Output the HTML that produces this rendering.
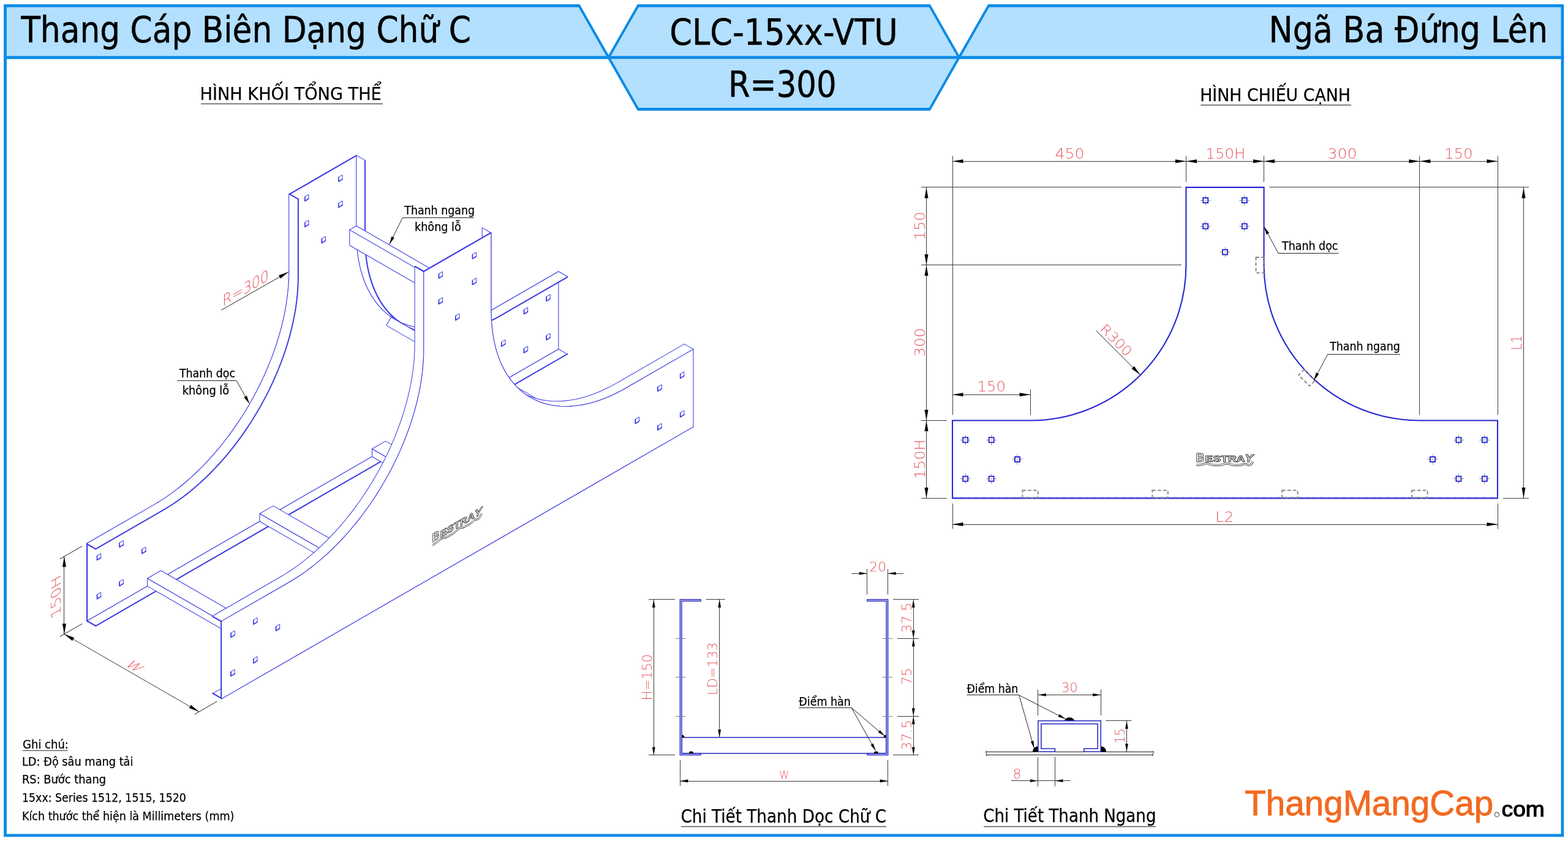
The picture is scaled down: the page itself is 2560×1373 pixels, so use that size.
<!DOCTYPE html>
<html lang="vi"><head><meta charset="utf-8"><title>CLC-15xx-VTU - Ngã Ba Đứng Lên</title>
<style>html,body{margin:0;padding:0;background:#fff}body{width:2560px;height:1373px;overflow:hidden}svg{display:block;will-change:transform}text{white-space:pre}</style>
</head><body>
<svg width="2560" height="1373" viewBox="0 0 2560 1373">
<rect width="2560" height="1373" fill="#fff"/>
<g id="frame">
<polygon points="6.1,91.4 2553.3,91.4 2553.3,1366.2 6.1,1366.2" fill="#0c8be6"/>
<polygon points="10.9,96.2 2548.5,96.2 2548.5,1361.4 10.9,1361.4" fill="#fff"/>
<polygon points="6.1,7 946.43,7 997.27,96.2 6.1,96.2" fill="#0c8be6"/>
<polygon points="10.9,11.8 944.57,11.8 989.93,91.4 10.9,91.4" fill="#b3e0ff"/>
<polygon points="1613.07,7 2553.3,7 2553.3,96.2 1562.13,96.2" fill="#0c8be6"/>
<polygon points="1614.93,11.8 2548.5,11.8 2548.5,91.4 1569.47,91.4" fill="#b3e0ff"/>
<polygon points="1040.87,7 1518.74,7 1568.1,93.8 1518.74,180.8 1040.87,180.8 991.3,93.8" fill="#0c8be6"/>
<polygon points="1042.73,11.8 1516.86,11.8 1563.5,93.8 1516.86,176 1042.73,176 995.9,93.8" fill="#b3e0ff"/>
<rect x="993.6" y="91.4" width="572.2" height="4.8" fill="#0c8be6"/>
</g>
<g id="iso">
<path d="M141.6 1014 L141.6 887.29 L251.64 823.86 L260.28 818.68 L268.91 813.12 L277.51 807.19 L286.07 800.89 L294.58 794.24 L303.02 787.24 L311.38 779.91 L319.65 772.25 L327.81 764.29 L335.86 756.02 L343.78 747.47 L351.55 738.64 L359.18 729.56 L366.63 720.23 L373.91 710.67 L381 700.89 L387.89 690.91 L394.57 680.75 L401.03 670.42 L407.26 659.93 L413.25 649.3 L418.99 638.55 L424.47 627.7 L429.69 616.76 L434.63 605.75 L439.29 594.68 L443.66 583.58 L447.73 572.45 L451.5 561.33 L454.97 550.21 L458.12 539.13 L460.95 528.1 L463.46 517.13 L465.64 506.24 L467.49 495.46 L469.01 484.78 L470.19 474.24 L471.04 463.85 L471.55 453.63 L471.72 443.58 L471.72 316.87 L581.76 253.44 L581.76 380.14 L581.93 390 L582.44 399.64 L583.29 409.05 L584.47 418.23 L585.99 427.15 L587.84 435.8 L590.02 444.17 L592.53 452.24 L595.36 460.01 L598.51 467.46 L601.98 474.58 L605.75 481.36 L609.82 487.79 L614.19 493.86 L618.85 499.55 L623.79 504.87 L629.01 509.79 L634.49 514.32 L640.23 518.45 L646.22 522.17 L652.45 525.48 L658.91 528.36 L665.59 530.83 L672.48 532.86 L679.57 534.46 L686.85 535.63 L694.3 536.37 L701.93 536.66 L709.7 536.52 L717.62 535.95 L725.67 534.93 L733.83 533.49 L742.1 531.61 L750.46 529.3 L758.9 526.57 L767.41 523.41 L775.97 519.84 L784.57 515.86 L793.2 511.47 L801.84 506.69 L911.88 443.25 L911.88 569.95Z" fill="#fff" stroke="#3c3ce4" stroke-width="1.05" stroke-linejoin="round" fill-rule="nonzero"/>
<path d="M158.18 978.17 L164.64 974.45 L164.64 967.02 L158.18 970.74Z" fill="#fff" stroke="#3c3ce4" stroke-width="1.0" stroke-linejoin="round" fill-rule="nonzero"/>
<path d="M158.68 971.04 L158.68 977.67 L164.64 973.85" fill="none" stroke="#3c3ce4" stroke-width="1.5" stroke-linejoin="round" stroke-linecap="round"/>
<path d="M158.18 914.82 L164.64 911.1 L164.64 903.67 L158.18 907.39Z" fill="#fff" stroke="#3c3ce4" stroke-width="1.0" stroke-linejoin="round" fill-rule="nonzero"/>
<path d="M158.68 907.69 L158.68 914.32 L164.64 910.5" fill="none" stroke="#3c3ce4" stroke-width="1.5" stroke-linejoin="round" stroke-linecap="round"/>
<path d="M194.86 957.03 L201.32 953.31 L201.32 945.87 L194.86 949.6Z" fill="#fff" stroke="#3c3ce4" stroke-width="1.0" stroke-linejoin="round" fill-rule="nonzero"/>
<path d="M195.36 949.9 L195.36 956.53 L201.32 952.71" fill="none" stroke="#3c3ce4" stroke-width="1.5" stroke-linejoin="round" stroke-linecap="round"/>
<path d="M194.86 893.68 L201.32 889.96 L201.32 882.52 L194.86 886.24Z" fill="#fff" stroke="#3c3ce4" stroke-width="1.0" stroke-linejoin="round" fill-rule="nonzero"/>
<path d="M195.36 886.54 L195.36 893.18 L201.32 889.36" fill="none" stroke="#3c3ce4" stroke-width="1.5" stroke-linejoin="round" stroke-linecap="round"/>
<path d="M231.54 904.21 L238 900.49 L238 893.05 L231.54 896.77Z" fill="#fff" stroke="#3c3ce4" stroke-width="1.0" stroke-linejoin="round" fill-rule="nonzero"/>
<path d="M232.04 897.07 L232.04 903.71 L238 899.89" fill="none" stroke="#3c3ce4" stroke-width="1.5" stroke-linejoin="round" stroke-linecap="round"/>
<path d="M891.78 555.27 L898.24 551.55 L898.24 544.12 L891.78 547.84Z" fill="#fff" stroke="#3c3ce4" stroke-width="1.0" stroke-linejoin="round" fill-rule="nonzero"/>
<path d="M892.28 548.14 L892.28 554.77 L898.24 550.95" fill="none" stroke="#3c3ce4" stroke-width="1.5" stroke-linejoin="round" stroke-linecap="round"/>
<path d="M891.78 491.92 L898.24 488.2 L898.24 480.77 L891.78 484.49Z" fill="#fff" stroke="#3c3ce4" stroke-width="1.0" stroke-linejoin="round" fill-rule="nonzero"/>
<path d="M892.28 484.79 L892.28 491.42 L898.24 487.6" fill="none" stroke="#3c3ce4" stroke-width="1.5" stroke-linejoin="round" stroke-linecap="round"/>
<path d="M855.1 576.42 L861.56 572.7 L861.56 565.26 L855.1 568.99Z" fill="#fff" stroke="#3c3ce4" stroke-width="1.0" stroke-linejoin="round" fill-rule="nonzero"/>
<path d="M855.6 569.29 L855.6 575.92 L861.56 572.1" fill="none" stroke="#3c3ce4" stroke-width="1.5" stroke-linejoin="round" stroke-linecap="round"/>
<path d="M855.1 513.07 L861.56 509.35 L861.56 501.91 L855.1 505.63Z" fill="#fff" stroke="#3c3ce4" stroke-width="1.0" stroke-linejoin="round" fill-rule="nonzero"/>
<path d="M855.6 505.93 L855.6 512.57 L861.56 508.75" fill="none" stroke="#3c3ce4" stroke-width="1.5" stroke-linejoin="round" stroke-linecap="round"/>
<path d="M818.42 565.89 L824.88 562.17 L824.88 554.73 L818.42 558.45Z" fill="#fff" stroke="#3c3ce4" stroke-width="1.0" stroke-linejoin="round" fill-rule="nonzero"/>
<path d="M818.92 558.75 L818.92 565.39 L824.88 561.57" fill="none" stroke="#3c3ce4" stroke-width="1.5" stroke-linejoin="round" stroke-linecap="round"/>
<path d="M497.47 328.56 L503.93 324.84 L503.93 317.4 L497.47 321.12Z" fill="#fff" stroke="#3c3ce4" stroke-width="1.0" stroke-linejoin="round" fill-rule="nonzero"/>
<path d="M497.97 321.42 L497.97 328.06 L503.93 324.24" fill="none" stroke="#3c3ce4" stroke-width="1.5" stroke-linejoin="round" stroke-linecap="round"/>
<path d="M552.49 296.84 L558.95 293.12 L558.95 285.68 L552.49 289.41Z" fill="#fff" stroke="#3c3ce4" stroke-width="1.0" stroke-linejoin="round" fill-rule="nonzero"/>
<path d="M552.99 289.71 L552.99 296.34 L558.95 292.52" fill="none" stroke="#3c3ce4" stroke-width="1.5" stroke-linejoin="round" stroke-linecap="round"/>
<path d="M497.47 370.79 L503.93 367.07 L503.93 359.64 L497.47 363.36Z" fill="#fff" stroke="#3c3ce4" stroke-width="1.0" stroke-linejoin="round" fill-rule="nonzero"/>
<path d="M497.97 363.66 L497.97 370.29 L503.93 366.47" fill="none" stroke="#3c3ce4" stroke-width="1.5" stroke-linejoin="round" stroke-linecap="round"/>
<path d="M552.49 339.07 L558.95 335.35 L558.95 327.92 L552.49 331.64Z" fill="#fff" stroke="#3c3ce4" stroke-width="1.0" stroke-linejoin="round" fill-rule="nonzero"/>
<path d="M552.99 331.94 L552.99 338.57 L558.95 334.75" fill="none" stroke="#3c3ce4" stroke-width="1.5" stroke-linejoin="round" stroke-linecap="round"/>
<path d="M524.98 397.17 L531.44 393.45 L531.44 386.01 L524.98 389.73Z" fill="#fff" stroke="#3c3ce4" stroke-width="1.0" stroke-linejoin="round" fill-rule="nonzero"/>
<path d="M525.48 390.03 L525.48 396.67 L531.44 392.85" fill="none" stroke="#3c3ce4" stroke-width="1.5" stroke-linejoin="round" stroke-linecap="round"/>
<path d="M142.33 1014.42 L142.33 887.72" fill="none" stroke="#3c3ce4" stroke-width="1.7" stroke-linejoin="round" stroke-linecap="round"/>
<path d="M472.45 317.3 L582.49 253.86" fill="none" stroke="#3c3ce4" stroke-width="1.7" stroke-linejoin="round" stroke-linecap="round"/>
<path d="M141.6 1014 L911.88 569.95 L926.55 578.41 L156.27 1022.46Z" fill="#fff" stroke="#fff" stroke-width="0.6"/>
<path d="M141.6 1014 L911.88 569.95" fill="none" stroke="#3c3ce4" stroke-width="1.05" stroke-linejoin="round" stroke-linecap="round"/>
<path d="M156.27 1022.46 L926.55 578.41" fill="none" stroke="#3c3ce4" stroke-width="1.05" stroke-linejoin="round" stroke-linecap="round"/>
<path d="M141.6 1014 L156.27 1022.46" fill="none" stroke="#3c3ce4" stroke-width="1.05" stroke-linejoin="round" stroke-linecap="round"/>
<path d="M911.88 569.95 L926.55 578.41" fill="none" stroke="#3c3ce4" stroke-width="1.05" stroke-linejoin="round" stroke-linecap="round"/>
<path d="M156.27 1021.61 L926.55 577.57" fill="none" stroke="#3c3ce4" stroke-width="1.5" stroke-linejoin="round" stroke-linecap="round"/>
<path d="M141.6 1013.16 L156.27 1021.61" fill="none" stroke="#3c3ce4" stroke-width="1.7" stroke-linejoin="round" stroke-linecap="round"/>
<path d="M581.76 253.44 L581.76 380.14 L596.43 388.6 L596.43 261.9Z M581.76 380.14 L581.93 390 L596.6 398.45 L596.43 388.6Z M581.93 390 L582.44 399.64 L597.11 408.09 L596.6 398.45Z M582.44 399.64 L583.29 409.05 L597.96 417.51 L597.11 408.09Z M583.29 409.05 L584.47 418.23 L599.14 426.68 L597.96 417.51Z M584.47 418.23 L585.99 427.15 L600.66 435.6 L599.14 426.68Z M585.99 427.15 L587.84 435.8 L602.51 444.25 L600.66 435.6Z M587.84 435.8 L590.02 444.17 L604.69 452.63 L602.51 444.25Z M590.02 444.17 L592.53 452.24 L607.2 460.7 L604.69 452.63Z M592.53 452.24 L595.36 460.01 L610.03 468.47 L607.2 460.7Z M595.36 460.01 L598.51 467.46 L613.18 475.92 L610.03 468.47Z M598.51 467.46 L601.98 474.58 L616.65 483.04 L613.18 475.92Z M601.98 474.58 L605.75 481.36 L620.42 489.82 L616.65 483.04Z M605.75 481.36 L609.82 487.79 L624.49 496.25 L620.42 489.82Z M609.82 487.79 L614.19 493.86 L628.86 502.31 L624.49 496.25Z M614.19 493.86 L618.85 499.55 L633.52 508.01 L628.86 502.31Z M618.85 499.55 L623.79 504.87 L638.46 513.32 L633.52 508.01Z M623.79 504.87 L629.01 509.79 L643.68 518.25 L638.46 513.32Z M629.01 509.79 L634.49 514.32 L649.16 522.78 L643.68 518.25Z M634.49 514.32 L640.23 518.45 L654.9 526.91 L649.16 522.78Z M640.23 518.45 L646.22 522.17 L660.89 530.63 L654.9 526.91Z M646.22 522.17 L652.45 525.48 L667.12 533.94 L660.89 530.63Z M652.45 525.48 L658.91 528.36 L673.58 536.82 L667.12 533.94Z M658.91 528.36 L665.59 530.83 L680.26 539.28 L673.58 536.82Z M665.59 530.83 L672.48 532.86 L687.15 541.32 L680.26 539.28Z M672.48 532.86 L679.57 534.46 L694.24 542.92 L687.15 541.32Z M679.57 534.46 L686.85 535.63 L701.52 544.09 L694.24 542.92Z M686.85 535.63 L694.3 536.37 L708.98 544.82 L701.52 544.09Z M694.3 536.37 L701.93 536.66 L716.6 545.12 L708.98 544.82Z M701.93 536.66 L709.7 536.52 L724.37 544.98 L716.6 545.12Z M709.7 536.52 L717.62 535.95 L732.29 544.4 L724.37 544.98Z M717.62 535.95 L725.67 534.93 L740.34 543.39 L732.29 544.4Z M725.67 534.93 L733.83 533.49 L748.5 541.95 L740.34 543.39Z M733.83 533.49 L742.1 531.61 L756.77 540.07 L748.5 541.95Z M742.1 531.61 L750.46 529.3 L765.14 537.76 L756.77 540.07Z M750.46 529.3 L758.9 526.57 L773.58 535.02 L765.14 537.76Z M758.9 526.57 L767.41 523.41 L782.08 531.87 L773.58 535.02Z M767.41 523.41 L775.97 519.84 L790.64 528.3 L782.08 531.87Z M775.97 519.84 L784.57 515.86 L799.24 524.32 L790.64 528.3Z M784.57 515.86 L793.2 511.47 L807.87 519.93 L799.24 524.32Z M793.2 511.47 L801.84 506.69 L816.51 515.14 L807.87 519.93Z M801.84 506.69 L911.88 443.25 L926.55 451.71 L816.51 515.14Z" fill="#fff" stroke="#fff" stroke-width="0.6"/>
<path d="M581.76 253.44 L581.76 380.14 L581.93 390 L582.44 399.64 L583.29 409.05 L584.47 418.23 L585.99 427.15 L587.84 435.8 L590.02 444.17 L592.53 452.24 L595.36 460.01 L598.51 467.46 L601.98 474.58 L605.75 481.36 L609.82 487.79 L614.19 493.86 L618.85 499.55 L623.79 504.87 L629.01 509.79 L634.49 514.32 L640.23 518.45 L646.22 522.17 L652.45 525.48 L658.91 528.36 L665.59 530.83 L672.48 532.86 L679.57 534.46 L686.85 535.63 L694.3 536.37 L701.93 536.66 L709.7 536.52 L717.62 535.95 L725.67 534.93 L733.83 533.49 L742.1 531.61 L750.46 529.3 L758.9 526.57 L767.41 523.41 L775.97 519.84 L784.57 515.86 L793.2 511.47 L801.84 506.69 L911.88 443.25" fill="none" stroke="#3c3ce4" stroke-width="1.05" stroke-linejoin="round" stroke-linecap="round"/>
<path d="M596.43 261.9 L596.43 388.6 L596.6 398.45 L597.11 408.09 L597.96 417.51 L599.14 426.68 L600.66 435.6 L602.51 444.25 L604.69 452.63 L607.2 460.7 L610.03 468.47 L613.18 475.92 L616.65 483.04 L620.42 489.82 L624.49 496.25 L628.86 502.31 L633.52 508.01 L638.46 513.32 L643.68 518.25 L649.16 522.78 L654.9 526.91 L660.89 530.63 L667.12 533.94 L673.58 536.82 L680.26 539.28 L687.15 541.32 L694.24 542.92 L701.52 544.09 L708.98 544.82 L716.6 545.12 L724.37 544.98 L732.29 544.4 L740.34 543.39 L748.5 541.95 L756.77 540.07 L765.14 537.76 L773.58 535.02 L782.08 531.87 L790.64 528.3 L799.24 524.32 L807.87 519.93 L816.51 515.14 L926.55 451.71" fill="none" stroke="#3c3ce4" stroke-width="1.05" stroke-linejoin="round" stroke-linecap="round"/>
<path d="M581.76 253.44 L596.43 261.9" fill="none" stroke="#3c3ce4" stroke-width="1.05" stroke-linejoin="round" stroke-linecap="round"/>
<path d="M911.88 443.25 L926.55 451.71" fill="none" stroke="#3c3ce4" stroke-width="1.05" stroke-linejoin="round" stroke-linecap="round"/>
<path d="M595.7 262.32 L595.7 389.03 L595.87 398.91 L596.38 408.58 L597.23 418.03 L598.42 427.23 L599.94 436.18 L601.8 444.86 L603.99 453.26 L606.51 461.36 L609.35 469.16 L612.51 476.64 L615.98 483.78 L619.77 490.58 L623.85 497.03 L628.24 503.12 L632.91 508.83 L637.87 514.16 L643.1 519.11 L648.6 523.65 L654.36 527.8 L660.37 531.53 L666.62 534.84 L673.11 537.74 L679.81 540.21 L686.72 542.25 L693.83 543.86 L701.14 545.03 L708.62 545.77 L716.26 546.07 L724.07 545.93 L732.01 545.35 L740.08 544.33 L748.28 542.88 L756.57 540.99 L764.96 538.68 L773.43 535.94 L781.97 532.77 L790.56 529.19 L799.19 525.19 L807.84 520.79 L816.51 515.99 L926.55 452.55" fill="none" stroke="#3c3ce4" stroke-width="1.5" stroke-linejoin="round" stroke-linecap="round"/>
<path d="M141.6 887.29 L251.64 823.86 L266.31 832.32 L156.27 895.75Z M251.64 823.86 L260.28 818.68 L274.95 827.14 L266.31 832.32Z M260.28 818.68 L268.91 813.12 L283.58 821.58 L274.95 827.14Z M268.91 813.12 L277.51 807.19 L292.18 815.65 L283.58 821.58Z M277.51 807.19 L286.07 800.89 L300.74 809.35 L292.18 815.65Z M286.07 800.89 L294.58 794.24 L309.25 802.7 L300.74 809.35Z M294.58 794.24 L303.02 787.24 L317.69 795.7 L309.25 802.7Z M303.02 787.24 L311.38 779.91 L326.05 788.37 L317.69 795.7Z M311.38 779.91 L319.65 772.25 L334.32 780.71 L326.05 788.37Z M319.65 772.25 L327.81 764.29 L342.49 772.74 L334.32 780.71Z M327.81 764.29 L335.86 756.02 L350.53 764.48 L342.49 772.74Z M335.86 756.02 L343.78 747.47 L358.45 755.93 L350.53 764.48Z M343.78 747.47 L351.55 738.64 L366.23 747.1 L358.45 755.93Z M351.55 738.64 L359.18 729.56 L373.85 738.02 L366.23 747.1Z M359.18 729.56 L366.63 720.23 L381.3 728.69 L373.85 738.02Z M366.63 720.23 L373.91 710.67 L388.58 719.13 L381.3 728.69Z M373.91 710.67 L381 700.89 L395.67 709.35 L388.58 719.13Z M381 700.89 L387.89 690.91 L402.56 699.37 L395.67 709.35Z M387.89 690.91 L394.57 680.75 L409.24 689.21 L402.56 699.37Z M394.57 680.75 L401.03 670.42 L415.7 678.87 L409.24 689.21Z M401.03 670.42 L407.26 659.93 L421.93 668.39 L415.7 678.87Z M407.26 659.93 L413.25 649.3 L427.92 657.76 L421.93 668.39Z M413.25 649.3 L418.99 638.55 L433.66 647.01 L427.92 657.76Z M418.99 638.55 L424.47 627.7 L439.14 636.16 L433.66 647.01Z M424.47 627.7 L429.69 616.76 L444.36 625.22 L439.14 636.16Z M429.69 616.76 L434.63 605.75 L449.3 614.21 L444.36 625.22Z M434.63 605.75 L439.29 594.68 L453.96 603.14 L449.3 614.21Z M439.29 594.68 L443.66 583.58 L458.33 592.04 L453.96 603.14Z M443.66 583.58 L447.73 572.45 L462.4 580.91 L458.33 592.04Z M447.73 572.45 L451.5 561.33 L466.18 569.78 L462.4 580.91Z M451.5 561.33 L454.97 550.21 L469.64 558.67 L466.18 569.78Z M454.97 550.21 L458.12 539.13 L472.79 547.59 L469.64 558.67Z M458.12 539.13 L460.95 528.1 L475.62 536.56 L472.79 547.59Z M460.95 528.1 L463.46 517.13 L478.13 525.59 L475.62 536.56Z M463.46 517.13 L465.64 506.24 L480.31 514.7 L478.13 525.59Z M465.64 506.24 L467.49 495.46 L482.16 503.91 L480.31 514.7Z M467.49 495.46 L469.01 484.78 L483.68 493.24 L482.16 503.91Z M469.01 484.78 L470.19 474.24 L484.87 482.7 L483.68 493.24Z M470.19 474.24 L471.04 463.85 L485.71 472.31 L484.87 482.7Z M471.04 463.85 L471.55 453.63 L486.22 462.08 L485.71 472.31Z M471.55 453.63 L471.72 443.58 L486.39 452.04 L486.22 462.08Z M471.72 443.58 L471.72 316.87 L486.39 325.33 L486.39 452.04Z" fill="#fff" stroke="#fff" stroke-width="0.6"/>
<path d="M141.6 887.29 L251.64 823.86 L260.28 818.68 L268.91 813.12 L277.51 807.19 L286.07 800.89 L294.58 794.24 L303.02 787.24 L311.38 779.91 L319.65 772.25 L327.81 764.29 L335.86 756.02 L343.78 747.47 L351.55 738.64 L359.18 729.56 L366.63 720.23 L373.91 710.67 L381 700.89 L387.89 690.91 L394.57 680.75 L401.03 670.42 L407.26 659.93 L413.25 649.3 L418.99 638.55 L424.47 627.7 L429.69 616.76 L434.63 605.75 L439.29 594.68 L443.66 583.58 L447.73 572.45 L451.5 561.33 L454.97 550.21 L458.12 539.13 L460.95 528.1 L463.46 517.13 L465.64 506.24 L467.49 495.46 L469.01 484.78 L470.19 474.24 L471.04 463.85 L471.55 453.63 L471.72 443.58 L471.72 316.87" fill="none" stroke="#3c3ce4" stroke-width="1.05" stroke-linejoin="round" stroke-linecap="round"/>
<path d="M156.27 895.75 L266.31 832.32 L274.95 827.14 L283.58 821.58 L292.18 815.65 L300.74 809.35 L309.25 802.7 L317.69 795.7 L326.05 788.37 L334.32 780.71 L342.49 772.74 L350.53 764.48 L358.45 755.93 L366.23 747.1 L373.85 738.02 L381.3 728.69 L388.58 719.13 L395.67 709.35 L402.56 699.37 L409.24 689.21 L415.7 678.87 L421.93 668.39 L427.92 657.76 L433.66 647.01 L439.14 636.16 L444.36 625.22 L449.3 614.21 L453.96 603.14 L458.33 592.04 L462.4 580.91 L466.18 569.78 L469.64 558.67 L472.79 547.59 L475.62 536.56 L478.13 525.59 L480.31 514.7 L482.16 503.91 L483.68 493.24 L484.87 482.7 L485.71 472.31 L486.22 462.08 L486.39 452.04 L486.39 325.33" fill="none" stroke="#3c3ce4" stroke-width="1.05" stroke-linejoin="round" stroke-linecap="round"/>
<path d="M141.6 887.29 L156.27 895.75" fill="none" stroke="#3c3ce4" stroke-width="1.05" stroke-linejoin="round" stroke-linecap="round"/>
<path d="M471.72 316.87 L486.39 325.33" fill="none" stroke="#3c3ce4" stroke-width="1.05" stroke-linejoin="round" stroke-linecap="round"/>
<path d="M156.27 896.6 L266.31 833.16 L274.98 827.97 L283.64 822.39 L292.27 816.44 L300.85 810.12 L309.39 803.44 L317.86 796.42 L326.25 789.06 L334.55 781.38 L342.74 773.39 L350.81 765.1 L358.76 756.52 L366.56 747.66 L374.21 738.55 L381.69 729.19 L388.99 719.59 L396.1 709.78 L403.02 699.77 L409.72 689.57 L416.2 679.21 L422.45 668.68 L428.46 658.02 L434.22 647.24 L439.72 636.35 L444.95 625.37 L449.91 614.32 L454.59 603.22 L458.97 592.08 L463.06 580.92 L466.84 569.75 L470.32 558.6 L473.48 547.48 L476.32 536.41 L478.84 525.41 L481.02 514.49 L482.88 503.66 L484.41 492.96 L485.6 482.38 L486.44 471.96 L486.96 461.7 L487.13 451.62 L487.13 324.91" fill="none" stroke="#3c3ce4" stroke-width="1.5" stroke-linejoin="round" stroke-linecap="round"/>
<path d="M141.6 888.14 L156.27 896.6" fill="none" stroke="#3c3ce4" stroke-width="1.7" stroke-linejoin="round" stroke-linecap="round"/>
<path d="M472.45 316.45 L487.13 324.91" fill="none" stroke="#3c3ce4" stroke-width="1.7" stroke-linejoin="round" stroke-linecap="round"/>
<path d="M790.84 639.73 L1010.92 766.6 L1010.92 753.93 L790.84 627.06Z" fill="#fff" stroke="#3c3ce4" stroke-width="1.05" stroke-linejoin="round" fill-rule="nonzero"/>
<path d="M790.84 627.06 L1010.92 753.93 L1032.92 741.25 L812.84 614.38Z" fill="#fff" stroke="#3c3ce4" stroke-width="1.05" stroke-linejoin="round" fill-rule="nonzero"/>
<path d="M638.44 517.7 L858.52 644.57 L850.74 658.01 L630.66 531.14Z" fill="#fff" stroke="#3c3ce4" stroke-width="1.05" stroke-linejoin="round" fill-rule="nonzero"/>
<path d="M607.44 745.46 L827.52 872.33 L827.52 859.66 L607.44 732.79Z" fill="#fff" stroke="#3c3ce4" stroke-width="1.05" stroke-linejoin="round" fill-rule="nonzero"/>
<path d="M607.44 732.79 L827.52 859.66 L849.52 846.97 L629.44 720.1Z" fill="#fff" stroke="#3c3ce4" stroke-width="1.05" stroke-linejoin="round" fill-rule="nonzero"/>
<path d="M570.76 400.43 L790.84 527.3 L790.84 501.96 L570.76 375.09Z" fill="#fff" stroke="#3c3ce4" stroke-width="1.05" stroke-linejoin="round" fill-rule="nonzero"/>
<path d="M570.76 375.09 L790.84 501.96 L801.84 495.61 L581.76 368.74Z" fill="#fff" stroke="#3c3ce4" stroke-width="1.05" stroke-linejoin="round" fill-rule="nonzero"/>
<path d="M424.04 851.18 L644.12 978.05 L644.12 965.38 L424.04 838.51Z" fill="#fff" stroke="#3c3ce4" stroke-width="1.05" stroke-linejoin="round" fill-rule="nonzero"/>
<path d="M424.04 838.51 L644.12 965.38 L666.12 952.7 L446.04 825.83Z" fill="#fff" stroke="#3c3ce4" stroke-width="1.05" stroke-linejoin="round" fill-rule="nonzero"/>
<path d="M240.64 956.91 L460.72 1083.78 L460.72 1071.11 L240.64 944.24Z" fill="#fff" stroke="#3c3ce4" stroke-width="1.05" stroke-linejoin="round" fill-rule="nonzero"/>
<path d="M240.64 944.24 L460.72 1071.11 L482.72 1058.42 L262.64 931.55Z" fill="#fff" stroke="#3c3ce4" stroke-width="1.05" stroke-linejoin="round" fill-rule="nonzero"/>
<path d="M361.68 1140.87 L1131.96 696.83 L1117.29 688.37 L347.01 1132.41Z" fill="#fff" stroke="#fff" stroke-width="0.6"/>
<path d="M361.68 1140.87 L1131.96 696.83" fill="none" stroke="#3c3ce4" stroke-width="1.05" stroke-linejoin="round" stroke-linecap="round"/>
<path d="M347.01 1132.41 L1117.29 688.37" fill="none" stroke="#3c3ce4" stroke-width="1.05" stroke-linejoin="round" stroke-linecap="round"/>
<path d="M361.68 1140.87 L347.01 1132.41" fill="none" stroke="#3c3ce4" stroke-width="1.05" stroke-linejoin="round" stroke-linecap="round"/>
<path d="M1131.96 696.83 L1117.29 688.37" fill="none" stroke="#3c3ce4" stroke-width="1.05" stroke-linejoin="round" stroke-linecap="round"/>
<path d="M361.68 1140.03 L347.01 1131.57" fill="none" stroke="#3c3ce4" stroke-width="1.7" stroke-linejoin="round" stroke-linecap="round"/>
<path d="M801.84 380.31 L801.84 507.01 L787.17 498.56 L787.17 371.85Z M801.84 507.01 L802.01 516.87 L787.34 508.41 L787.17 498.56Z M802.01 516.87 L802.52 526.51 L787.85 518.05 L787.34 508.41Z M802.52 526.51 L803.37 535.92 L788.69 527.46 L787.85 518.05Z M803.37 535.92 L804.55 545.1 L789.88 536.64 L788.69 527.46Z M804.55 545.1 L806.07 554.02 L791.4 545.56 L789.88 536.64Z M806.07 554.02 L807.92 562.67 L793.25 554.21 L791.4 545.56Z M807.92 562.67 L810.1 571.04 L795.43 562.58 L793.25 554.21Z M810.1 571.04 L812.61 579.11 L797.94 570.66 L795.43 562.58Z M812.61 579.11 L815.44 586.88 L800.77 578.42 L797.94 570.66Z M815.44 586.88 L818.59 594.33 L803.92 585.88 L800.77 578.42Z M818.59 594.33 L822.06 601.45 L807.38 593 L803.92 585.88Z M822.06 601.45 L825.83 608.23 L811.16 599.77 L807.38 593Z M825.83 608.23 L829.9 614.66 L815.23 606.2 L811.16 599.77Z M829.9 614.66 L834.27 620.73 L819.6 612.27 L815.23 606.2Z M834.27 620.73 L838.93 626.42 L824.26 617.96 L819.6 612.27Z M838.93 626.42 L843.87 631.74 L829.2 623.28 L824.26 617.96Z M843.87 631.74 L849.09 636.66 L834.42 628.2 L829.2 623.28Z M849.09 636.66 L854.57 641.19 L839.9 632.74 L834.42 628.2Z M854.57 641.19 L860.31 645.32 L845.64 636.87 L839.9 632.74Z M860.31 645.32 L866.3 649.04 L851.63 640.59 L845.64 636.87Z M866.3 649.04 L872.53 652.35 L857.86 643.89 L851.63 640.59Z M872.53 652.35 L878.99 655.23 L864.32 646.78 L857.86 643.89Z M878.99 655.23 L885.67 657.7 L871 649.24 L864.32 646.78Z M885.67 657.7 L892.56 659.73 L877.89 651.27 L871 649.24Z M892.56 659.73 L899.65 661.33 L884.98 652.87 L877.89 651.27Z M899.65 661.33 L906.93 662.5 L892.26 654.04 L884.98 652.87Z M906.93 662.5 L914.38 663.24 L899.71 654.78 L892.26 654.04Z M914.38 663.24 L922.01 663.53 L907.33 655.07 L899.71 654.78Z M922.01 663.53 L929.78 663.39 L915.11 654.93 L907.33 655.07Z M929.78 663.39 L937.7 662.82 L923.03 654.36 L915.11 654.93Z M937.7 662.82 L945.75 661.8 L931.07 653.35 L923.03 654.36Z M945.75 661.8 L953.91 660.36 L939.24 651.9 L931.07 653.35Z M953.91 660.36 L962.18 658.48 L947.51 650.02 L939.24 651.9Z M962.18 658.48 L970.54 656.17 L955.87 647.71 L947.51 650.02Z M970.54 656.17 L978.98 653.44 L964.31 644.98 L955.87 647.71Z M978.98 653.44 L987.49 650.28 L972.82 641.82 L964.31 644.98Z M987.49 650.28 L996.05 646.71 L981.38 638.25 L972.82 641.82Z M996.05 646.71 L1004.65 642.73 L989.98 634.27 L981.38 638.25Z M1004.65 642.73 L1013.28 638.34 L998.61 629.88 L989.98 634.27Z M1013.28 638.34 L1021.92 633.55 L1007.25 625.1 L998.61 629.88Z M1021.92 633.55 L1131.96 570.12 L1117.29 561.66 L1007.25 625.1Z" fill="#fff" stroke="#fff" stroke-width="0.6"/>
<path d="M801.84 380.31 L801.84 507.01 L802.01 516.87 L802.52 526.51 L803.37 535.92 L804.55 545.1 L806.07 554.02 L807.92 562.67 L810.1 571.04 L812.61 579.11 L815.44 586.88 L818.59 594.33 L822.06 601.45 L825.83 608.23 L829.9 614.66 L834.27 620.73 L838.93 626.42 L843.87 631.74 L849.09 636.66 L854.57 641.19 L860.31 645.32 L866.3 649.04 L872.53 652.35 L878.99 655.23 L885.67 657.7 L892.56 659.73 L899.65 661.33 L906.93 662.5 L914.38 663.24 L922.01 663.53 L929.78 663.39 L937.7 662.82 L945.75 661.8 L953.91 660.36 L962.18 658.48 L970.54 656.17 L978.98 653.44 L987.49 650.28 L996.05 646.71 L1004.65 642.73 L1013.28 638.34 L1021.92 633.55 L1131.96 570.12" fill="none" stroke="#3c3ce4" stroke-width="1.05" stroke-linejoin="round" stroke-linecap="round"/>
<path d="M787.17 371.85 L787.17 498.56 L787.34 508.41 L787.85 518.05 L788.69 527.46 L789.88 536.64 L791.4 545.56 L793.25 554.21 L795.43 562.58 L797.94 570.66 L800.77 578.42 L803.92 585.88 L807.38 593 L811.16 599.77 L815.23 606.2 L819.6 612.27 L824.26 617.96 L829.2 623.28 L834.42 628.2 L839.9 632.74 L845.64 636.87 L851.63 640.59 L857.86 643.89 L864.32 646.78 L871 649.24 L877.89 651.27 L884.98 652.87 L892.26 654.04 L899.71 654.78 L907.33 655.07 L915.11 654.93 L923.03 654.36 L931.07 653.35 L939.24 651.9 L947.51 650.02 L955.87 647.71 L964.31 644.98 L972.82 641.82 L981.38 638.25 L989.98 634.27 L998.61 629.88 L1007.25 625.1 L1117.29 561.66" fill="none" stroke="#3c3ce4" stroke-width="1.05" stroke-linejoin="round" stroke-linecap="round"/>
<path d="M801.84 380.31 L787.17 371.85" fill="none" stroke="#3c3ce4" stroke-width="1.05" stroke-linejoin="round" stroke-linecap="round"/>
<path d="M1131.96 570.12 L1117.29 561.66" fill="none" stroke="#3c3ce4" stroke-width="1.05" stroke-linejoin="round" stroke-linecap="round"/>
<path d="M361.68 1014.16 L471.72 950.73 L457.05 942.27 L347.01 1005.71Z M471.72 950.73 L480.36 945.55 L465.69 937.1 L457.05 942.27Z M480.36 945.55 L488.99 939.99 L474.32 931.54 L465.69 937.1Z M488.99 939.99 L497.59 934.06 L482.92 925.6 L474.32 931.54Z M497.59 934.06 L506.15 927.76 L491.48 919.31 L482.92 925.6Z M506.15 927.76 L514.66 921.11 L499.98 912.65 L491.48 919.31Z M514.66 921.11 L523.1 914.11 L508.42 905.65 L499.98 912.65Z M523.1 914.11 L531.46 906.78 L516.79 898.32 L508.42 905.65Z M531.46 906.78 L539.73 899.12 L525.06 890.66 L516.79 898.32Z M539.73 899.12 L547.89 891.16 L533.22 882.7 L525.06 890.66Z M547.89 891.16 L555.94 882.89 L541.27 874.43 L533.22 882.7Z M555.94 882.89 L563.86 874.34 L549.19 865.88 L541.27 874.43Z M563.86 874.34 L571.63 865.51 L556.96 857.05 L549.19 865.88Z M571.63 865.51 L579.26 856.43 L564.58 847.97 L556.96 857.05Z M579.26 856.43 L586.71 847.1 L572.04 838.64 L564.58 847.97Z M586.71 847.1 L593.99 837.54 L579.32 829.08 L572.04 838.64Z M593.99 837.54 L601.08 827.76 L586.41 819.3 L579.32 829.08Z M601.08 827.76 L607.97 817.78 L593.3 809.32 L586.41 819.3Z M607.97 817.78 L614.65 807.62 L599.98 799.16 L593.3 809.32Z M614.65 807.62 L621.11 797.29 L606.44 788.83 L599.98 799.16Z M621.11 797.29 L627.34 786.8 L612.67 778.34 L606.44 788.83Z M627.34 786.8 L633.33 776.17 L618.66 767.71 L612.67 778.34Z M633.33 776.17 L639.07 765.42 L624.4 756.97 L618.66 767.71Z M639.07 765.42 L644.55 754.57 L629.88 746.11 L624.4 756.97Z M644.55 754.57 L649.77 743.63 L635.1 735.17 L629.88 746.11Z M649.77 743.63 L654.71 732.62 L640.04 724.16 L635.1 735.17Z M654.71 732.62 L659.37 721.55 L644.7 713.09 L640.04 724.16Z M659.37 721.55 L663.74 710.45 L649.07 701.99 L644.7 713.09Z M663.74 710.45 L667.81 699.32 L653.14 690.87 L649.07 701.99Z M667.81 699.32 L671.58 688.2 L656.91 679.74 L653.14 690.87Z M671.58 688.2 L675.05 677.08 L660.38 668.63 L656.91 679.74Z M675.05 677.08 L678.2 666 L663.53 657.54 L660.38 668.63Z M678.2 666 L681.03 654.97 L666.36 646.51 L663.53 657.54Z M681.03 654.97 L683.54 644 L668.87 635.54 L666.36 646.51Z M683.54 644 L685.72 633.11 L671.05 624.65 L668.87 635.54Z M685.72 633.11 L687.57 622.33 L672.9 613.87 L671.05 624.65Z M687.57 622.33 L689.09 611.65 L674.42 603.2 L672.9 613.87Z M689.09 611.65 L690.27 601.11 L675.6 592.66 L674.42 603.2Z M690.27 601.11 L691.12 590.72 L676.45 582.27 L675.6 592.66Z M691.12 590.72 L691.63 580.5 L676.96 572.04 L676.45 582.27Z M691.63 580.5 L691.8 570.45 L677.13 561.99 L676.96 572.04Z M691.8 570.45 L691.8 443.75 L677.13 435.29 L677.13 561.99Z" fill="#fff" stroke="#fff" stroke-width="0.6"/>
<path d="M361.68 1014.16 L471.72 950.73 L480.36 945.55 L488.99 939.99 L497.59 934.06 L506.15 927.76 L514.66 921.11 L523.1 914.11 L531.46 906.78 L539.73 899.12 L547.89 891.16 L555.94 882.89 L563.86 874.34 L571.63 865.51 L579.26 856.43 L586.71 847.1 L593.99 837.54 L601.08 827.76 L607.97 817.78 L614.65 807.62 L621.11 797.29 L627.34 786.8 L633.33 776.17 L639.07 765.42 L644.55 754.57 L649.77 743.63 L654.71 732.62 L659.37 721.55 L663.74 710.45 L667.81 699.32 L671.58 688.2 L675.05 677.08 L678.2 666 L681.03 654.97 L683.54 644 L685.72 633.11 L687.57 622.33 L689.09 611.65 L690.27 601.11 L691.12 590.72 L691.63 580.5 L691.8 570.45 L691.8 443.75" fill="none" stroke="#3c3ce4" stroke-width="1.05" stroke-linejoin="round" stroke-linecap="round"/>
<path d="M347.01 1005.71 L457.05 942.27 L465.69 937.1 L474.32 931.54 L482.92 925.6 L491.48 919.31 L499.98 912.65 L508.42 905.65 L516.79 898.32 L525.06 890.66 L533.22 882.7 L541.27 874.43 L549.19 865.88 L556.96 857.05 L564.58 847.97 L572.04 838.64 L579.32 829.08 L586.41 819.3 L593.3 809.32 L599.98 799.16 L606.44 788.83 L612.67 778.34 L618.66 767.71 L624.4 756.97 L629.88 746.11 L635.1 735.17 L640.04 724.16 L644.7 713.09 L649.07 701.99 L653.14 690.87 L656.91 679.74 L660.38 668.63 L663.53 657.54 L666.36 646.51 L668.87 635.54 L671.05 624.65 L672.9 613.87 L674.42 603.2 L675.6 592.66 L676.45 582.27 L676.96 572.04 L677.13 561.99 L677.13 435.29" fill="none" stroke="#3c3ce4" stroke-width="1.05" stroke-linejoin="round" stroke-linecap="round"/>
<path d="M361.68 1014.16 L347.01 1005.71" fill="none" stroke="#3c3ce4" stroke-width="1.05" stroke-linejoin="round" stroke-linecap="round"/>
<path d="M691.8 443.75 L677.13 435.29" fill="none" stroke="#3c3ce4" stroke-width="1.05" stroke-linejoin="round" stroke-linecap="round"/>
<path d="M361.68 1015.01 L347.01 1006.55" fill="none" stroke="#3c3ce4" stroke-width="1.7" stroke-linejoin="round" stroke-linecap="round"/>
<path d="M692.53 443.32 L677.86 434.86" fill="none" stroke="#3c3ce4" stroke-width="1.7" stroke-linejoin="round" stroke-linecap="round"/>
<path d="M361.68 1140.87 L361.68 1014.16 L471.72 950.73 L480.36 945.55 L488.99 939.99 L497.59 934.06 L506.15 927.76 L514.66 921.11 L523.1 914.11 L531.46 906.78 L539.73 899.12 L547.89 891.16 L555.94 882.89 L563.86 874.34 L571.63 865.51 L579.26 856.43 L586.71 847.1 L593.99 837.54 L601.08 827.76 L607.97 817.78 L614.65 807.62 L621.11 797.29 L627.34 786.8 L633.33 776.17 L639.07 765.42 L644.55 754.57 L649.77 743.63 L654.71 732.62 L659.37 721.55 L663.74 710.45 L667.81 699.32 L671.58 688.2 L675.05 677.08 L678.2 666 L681.03 654.97 L683.54 644 L685.72 633.11 L687.57 622.33 L689.09 611.65 L690.27 601.11 L691.12 590.72 L691.63 580.5 L691.8 570.45 L691.8 443.75 L801.84 380.31 L801.84 507.01 L802.01 516.87 L802.52 526.51 L803.37 535.92 L804.55 545.1 L806.07 554.02 L807.92 562.67 L810.1 571.04 L812.61 579.11 L815.44 586.88 L818.59 594.33 L822.06 601.45 L825.83 608.23 L829.9 614.66 L834.27 620.73 L838.93 626.42 L843.87 631.74 L849.09 636.66 L854.57 641.19 L860.31 645.32 L866.3 649.04 L872.53 652.35 L878.99 655.23 L885.67 657.7 L892.56 659.73 L899.65 661.33 L906.93 662.5 L914.38 663.24 L922.01 663.53 L929.78 663.39 L937.7 662.82 L945.75 661.8 L953.91 660.36 L962.18 658.48 L970.54 656.17 L978.98 653.44 L987.49 650.28 L996.05 646.71 L1004.65 642.73 L1013.28 638.34 L1021.92 633.55 L1131.96 570.12 L1131.96 696.83Z" fill="#fff" stroke="#3c3ce4" stroke-width="1.05" stroke-linejoin="round" fill-rule="nonzero"/>
<path d="M360.95 1140.45 L360.95 1013.74" fill="none" stroke="#3c3ce4" stroke-width="1.7" stroke-linejoin="round" stroke-linecap="round"/>
<path d="M691.07 443.32 L801.11 379.89" fill="none" stroke="#3c3ce4" stroke-width="1.7" stroke-linejoin="round" stroke-linecap="round"/>
<path d="M376.79 1104.2 L383.25 1100.48 L383.25 1093.04 L376.79 1096.77Z" fill="#fff" stroke="#3c3ce4" stroke-width="1.0" stroke-linejoin="round" fill-rule="nonzero"/>
<path d="M377.29 1097.07 L377.29 1103.7 L383.25 1099.88" fill="none" stroke="#3c3ce4" stroke-width="1.5" stroke-linejoin="round" stroke-linecap="round"/>
<path d="M376.79 1040.85 L383.25 1037.12 L383.25 1029.69 L376.79 1033.41Z" fill="#fff" stroke="#3c3ce4" stroke-width="1.0" stroke-linejoin="round" fill-rule="nonzero"/>
<path d="M377.29 1033.71 L377.29 1040.35 L383.25 1036.52" fill="none" stroke="#3c3ce4" stroke-width="1.5" stroke-linejoin="round" stroke-linecap="round"/>
<path d="M413.47 1083.05 L419.93 1079.33 L419.93 1071.9 L413.47 1075.62Z" fill="#fff" stroke="#3c3ce4" stroke-width="1.0" stroke-linejoin="round" fill-rule="nonzero"/>
<path d="M413.97 1075.92 L413.97 1082.55 L419.93 1078.73" fill="none" stroke="#3c3ce4" stroke-width="1.5" stroke-linejoin="round" stroke-linecap="round"/>
<path d="M413.47 1019.7 L419.93 1015.98 L419.93 1008.55 L413.47 1012.27Z" fill="#fff" stroke="#3c3ce4" stroke-width="1.0" stroke-linejoin="round" fill-rule="nonzero"/>
<path d="M413.97 1012.57 L413.97 1019.2 L419.93 1015.38" fill="none" stroke="#3c3ce4" stroke-width="1.5" stroke-linejoin="round" stroke-linecap="round"/>
<path d="M450.15 1030.23 L456.61 1026.51 L456.61 1019.08 L450.15 1022.8Z" fill="#fff" stroke="#3c3ce4" stroke-width="1.0" stroke-linejoin="round" fill-rule="nonzero"/>
<path d="M450.65 1023.1 L450.65 1029.73 L456.61 1025.91" fill="none" stroke="#3c3ce4" stroke-width="1.5" stroke-linejoin="round" stroke-linecap="round"/>
<path d="M1110.39 681.3 L1116.85 677.58 L1116.85 670.14 L1110.39 673.87Z" fill="#fff" stroke="#3c3ce4" stroke-width="1.0" stroke-linejoin="round" fill-rule="nonzero"/>
<path d="M1110.89 674.17 L1110.89 680.8 L1116.85 676.98" fill="none" stroke="#3c3ce4" stroke-width="1.5" stroke-linejoin="round" stroke-linecap="round"/>
<path d="M1110.39 617.95 L1116.85 614.22 L1116.85 606.79 L1110.39 610.51Z" fill="#fff" stroke="#3c3ce4" stroke-width="1.0" stroke-linejoin="round" fill-rule="nonzero"/>
<path d="M1110.89 610.81 L1110.89 617.45 L1116.85 613.62" fill="none" stroke="#3c3ce4" stroke-width="1.5" stroke-linejoin="round" stroke-linecap="round"/>
<path d="M1073.71 702.44 L1080.17 698.72 L1080.17 691.29 L1073.71 695.01Z" fill="#fff" stroke="#3c3ce4" stroke-width="1.0" stroke-linejoin="round" fill-rule="nonzero"/>
<path d="M1074.21 695.31 L1074.21 701.94 L1080.17 698.12" fill="none" stroke="#3c3ce4" stroke-width="1.5" stroke-linejoin="round" stroke-linecap="round"/>
<path d="M1073.71 639.09 L1080.17 635.37 L1080.17 627.94 L1073.71 631.66Z" fill="#fff" stroke="#3c3ce4" stroke-width="1.0" stroke-linejoin="round" fill-rule="nonzero"/>
<path d="M1074.21 631.96 L1074.21 638.59 L1080.17 634.77" fill="none" stroke="#3c3ce4" stroke-width="1.5" stroke-linejoin="round" stroke-linecap="round"/>
<path d="M1037.03 691.91 L1043.49 688.19 L1043.49 680.76 L1037.03 684.48Z" fill="#fff" stroke="#3c3ce4" stroke-width="1.0" stroke-linejoin="round" fill-rule="nonzero"/>
<path d="M1037.53 684.78 L1037.53 691.41 L1043.49 687.59" fill="none" stroke="#3c3ce4" stroke-width="1.5" stroke-linejoin="round" stroke-linecap="round"/>
<path d="M716.08 454.58 L722.54 450.86 L722.54 443.43 L716.08 447.15Z" fill="#fff" stroke="#3c3ce4" stroke-width="1.0" stroke-linejoin="round" fill-rule="nonzero"/>
<path d="M716.58 447.45 L716.58 454.08 L722.54 450.26" fill="none" stroke="#3c3ce4" stroke-width="1.5" stroke-linejoin="round" stroke-linecap="round"/>
<path d="M771.1 422.86 L777.56 419.14 L777.56 411.71 L771.1 415.43Z" fill="#fff" stroke="#3c3ce4" stroke-width="1.0" stroke-linejoin="round" fill-rule="nonzero"/>
<path d="M771.6 415.73 L771.6 422.36 L777.56 418.54" fill="none" stroke="#3c3ce4" stroke-width="1.5" stroke-linejoin="round" stroke-linecap="round"/>
<path d="M716.08 496.82 L722.54 493.09 L722.54 485.66 L716.08 489.38Z" fill="#fff" stroke="#3c3ce4" stroke-width="1.0" stroke-linejoin="round" fill-rule="nonzero"/>
<path d="M716.58 489.68 L716.58 496.32 L722.54 492.49" fill="none" stroke="#3c3ce4" stroke-width="1.5" stroke-linejoin="round" stroke-linecap="round"/>
<path d="M771.1 465.1 L777.56 461.38 L777.56 453.94 L771.1 457.67Z" fill="#fff" stroke="#3c3ce4" stroke-width="1.0" stroke-linejoin="round" fill-rule="nonzero"/>
<path d="M771.6 457.97 L771.6 464.6 L777.56 460.78" fill="none" stroke="#3c3ce4" stroke-width="1.5" stroke-linejoin="round" stroke-linecap="round"/>
<path d="M743.59 523.19 L750.05 519.47 L750.05 512.04 L743.59 515.76Z" fill="#fff" stroke="#3c3ce4" stroke-width="1.0" stroke-linejoin="round" fill-rule="nonzero"/>
<path d="M744.09 516.06 L744.09 522.69 L750.05 518.87" fill="none" stroke="#3c3ce4" stroke-width="1.5" stroke-linejoin="round" stroke-linecap="round"/>
</g>
<g id="side">
<line x1="1555.5" y1="254.5" x2="1555.5" y2="677.52" stroke="#3c3c3c" stroke-width="1" />
<line x1="2317.5" y1="254.5" x2="2317.5" y2="677.52" stroke="#3c3c3c" stroke-width="1" />
<line x1="2445.5" y1="254.5" x2="2445.5" y2="677.52" stroke="#3c3c3c" stroke-width="1" />
<line x1="1936.5" y1="254.5" x2="1936.5" y2="297" stroke="#3c3c3c" stroke-width="1" />
<line x1="2063.5" y1="254.5" x2="2063.5" y2="297" stroke="#3c3c3c" stroke-width="1" />
<line x1="1555.5" y1="822" x2="1555.5" y2="863.5" stroke="#3c3c3c" stroke-width="1" />
<line x1="2445.5" y1="822" x2="2445.5" y2="863.5" stroke="#3c3c3c" stroke-width="1" />
<line x1="1504" y1="305.5" x2="1929" y2="305.5" stroke="#3c3c3c" stroke-width="1" />
<line x1="1504" y1="432.5" x2="1929" y2="432.5" stroke="#3c3c3c" stroke-width="1" />
<line x1="1504" y1="686.5" x2="1546" y2="686.5" stroke="#3c3c3c" stroke-width="1" />
<line x1="1504" y1="813.5" x2="1546" y2="813.5" stroke="#3c3c3c" stroke-width="1" />
<line x1="2072.5" y1="305.5" x2="2496" y2="305.5" stroke="#3c3c3c" stroke-width="1" />
<line x1="2454" y1="813.5" x2="2496" y2="813.5" stroke="#3c3c3c" stroke-width="1" />
<line x1="1682.5" y1="635.5" x2="1682.5" y2="677.52" stroke="#3c3c3c" stroke-width="1" />
<line x1="1555" y1="263.5" x2="1936.43" y2="263.5" stroke="#383838" stroke-width="1" />
<polygon points="1555,263.3 1572.5,260.3 1572.5,266.3" fill="#000"/>
<polygon points="1936.43,263.3 1918.93,266.3 1918.93,260.3" fill="#000"/>
<line x1="1936.43" y1="263.5" x2="2063.57" y2="263.5" stroke="#383838" stroke-width="1" />
<polygon points="1936.43,263.3 1953.93,260.3 1953.93,266.3" fill="#000"/>
<polygon points="2063.57,263.3 2046.07,266.3 2046.07,260.3" fill="#000"/>
<line x1="2063.57" y1="263.5" x2="2317.86" y2="263.5" stroke="#383838" stroke-width="1" />
<polygon points="2063.57,263.3 2081.07,260.3 2081.07,266.3" fill="#000"/>
<polygon points="2317.86,263.3 2300.36,266.3 2300.36,260.3" fill="#000"/>
<line x1="2317.86" y1="263.5" x2="2445" y2="263.5" stroke="#383838" stroke-width="1" />
<polygon points="2317.86,263.3 2335.36,260.3 2335.36,266.3" fill="#000"/>
<polygon points="2445,263.3 2427.5,266.3 2427.5,260.3" fill="#000"/>
<line x1="1512.5" y1="305.9" x2="1512.5" y2="432.77" stroke="#383838" stroke-width="1" />
<polygon points="1512.5,305.9 1515.5,323.4 1509.5,323.4" fill="#000"/>
<polygon points="1512.5,432.77 1509.5,415.27 1515.5,415.27" fill="#000"/>
<line x1="1512.5" y1="432.77" x2="1512.5" y2="686.52" stroke="#383838" stroke-width="1" />
<polygon points="1512.5,432.77 1515.5,450.27 1509.5,450.27" fill="#000"/>
<polygon points="1512.5,686.52 1509.5,669.02 1515.5,669.02" fill="#000"/>
<line x1="1512.5" y1="686.52" x2="1512.5" y2="813.4" stroke="#383838" stroke-width="1" />
<polygon points="1512.5,686.52 1515.5,704.02 1509.5,704.02" fill="#000"/>
<polygon points="1512.5,813.4 1509.5,795.9 1515.5,795.9" fill="#000"/>
<line x1="2487.5" y1="305.9" x2="2487.5" y2="813.4" stroke="#383838" stroke-width="1" />
<polygon points="2487.5,305.9 2490.5,323.4 2484.5,323.4" fill="#000"/>
<polygon points="2487.5,813.4 2484.5,795.9 2490.5,795.9" fill="#000"/>
<line x1="1555" y1="856.5" x2="2445" y2="856.5" stroke="#383838" stroke-width="1" />
<polygon points="1555,856 1572.5,853 1572.5,859" fill="#000"/>
<polygon points="2445,856 2427.5,859 2427.5,853" fill="#000"/>
<line x1="1555" y1="644.5" x2="1682.14" y2="644.5" stroke="#383838" stroke-width="1" />
<polygon points="1555,644.3 1572.5,641.3 1572.5,647.3" fill="#000"/>
<polygon points="1682.14,644.3 1664.64,647.3 1664.64,641.3" fill="#000"/>
<path d="M1555 813.4 L1555 686.52 L1682.14 686.52 A254.29 253.75 0 0 0 1936.43 432.77 L1936.43 305.9 L2063.57 305.9 L2063.57 432.77 A254.29 253.75 0 0 0 2317.86 686.52 L2445 686.52 L2445 813.4 Z" fill="none" stroke="#2626d6" stroke-width="2.1" stroke-linejoin="miter"/>
<path d="M1555 811.8 L2445 811.8" fill="none" stroke="#8a8ad8" stroke-width="0.8" stroke-dasharray="7 5"/>
<line x1="1567.69" y1="781.5" x2="1584.69" y2="781.5" stroke="#777" stroke-width="0.8" />
<line x1="1576.5" y1="773.18" x2="1576.5" y2="790.18" stroke="#777" stroke-width="0.8" />
<rect x="1572.19" y="777.68" width="8" height="8" fill="#fff" stroke="#2626d6" stroke-width="1.9"/>
<rect x="1575.49" y="780.98" width="1.4" height="1.4" fill="#555"/>
<line x1="1567.69" y1="718.5" x2="1584.69" y2="718.5" stroke="#777" stroke-width="0.8" />
<line x1="1576.5" y1="709.74" x2="1576.5" y2="726.74" stroke="#777" stroke-width="0.8" />
<rect x="1572.19" y="714.24" width="8" height="8" fill="#fff" stroke="#2626d6" stroke-width="1.9"/>
<rect x="1575.49" y="717.54" width="1.4" height="1.4" fill="#555"/>
<line x1="1610.07" y1="781.5" x2="1627.07" y2="781.5" stroke="#777" stroke-width="0.8" />
<line x1="1618.5" y1="773.18" x2="1618.5" y2="790.18" stroke="#777" stroke-width="0.8" />
<rect x="1614.57" y="777.68" width="8" height="8" fill="#fff" stroke="#2626d6" stroke-width="1.9"/>
<rect x="1617.87" y="780.98" width="1.4" height="1.4" fill="#555"/>
<line x1="1610.07" y1="718.5" x2="1627.07" y2="718.5" stroke="#777" stroke-width="0.8" />
<line x1="1618.5" y1="709.74" x2="1618.5" y2="726.74" stroke="#777" stroke-width="0.8" />
<rect x="1614.57" y="714.24" width="8" height="8" fill="#fff" stroke="#2626d6" stroke-width="1.9"/>
<rect x="1617.87" y="717.54" width="1.4" height="1.4" fill="#555"/>
<line x1="1652.45" y1="749.5" x2="1669.45" y2="749.5" stroke="#777" stroke-width="0.8" />
<line x1="1660.5" y1="741.46" x2="1660.5" y2="758.46" stroke="#777" stroke-width="0.8" />
<rect x="1656.95" y="745.96" width="8" height="8" fill="#fff" stroke="#2626d6" stroke-width="1.9"/>
<rect x="1660.25" y="749.26" width="1.4" height="1.4" fill="#555"/>
<line x1="2415.31" y1="781.5" x2="2432.31" y2="781.5" stroke="#777" stroke-width="0.8" />
<line x1="2423.5" y1="773.18" x2="2423.5" y2="790.18" stroke="#777" stroke-width="0.8" />
<rect x="2419.81" y="777.68" width="8" height="8" fill="#fff" stroke="#2626d6" stroke-width="1.9"/>
<rect x="2423.11" y="780.98" width="1.4" height="1.4" fill="#555"/>
<line x1="2415.31" y1="718.5" x2="2432.31" y2="718.5" stroke="#777" stroke-width="0.8" />
<line x1="2423.5" y1="709.74" x2="2423.5" y2="726.74" stroke="#777" stroke-width="0.8" />
<rect x="2419.81" y="714.24" width="8" height="8" fill="#fff" stroke="#2626d6" stroke-width="1.9"/>
<rect x="2423.11" y="717.54" width="1.4" height="1.4" fill="#555"/>
<line x1="2372.93" y1="781.5" x2="2389.93" y2="781.5" stroke="#777" stroke-width="0.8" />
<line x1="2381.5" y1="773.18" x2="2381.5" y2="790.18" stroke="#777" stroke-width="0.8" />
<rect x="2377.43" y="777.68" width="8" height="8" fill="#fff" stroke="#2626d6" stroke-width="1.9"/>
<rect x="2380.73" y="780.98" width="1.4" height="1.4" fill="#555"/>
<line x1="2372.93" y1="718.5" x2="2389.93" y2="718.5" stroke="#777" stroke-width="0.8" />
<line x1="2381.5" y1="709.74" x2="2381.5" y2="726.74" stroke="#777" stroke-width="0.8" />
<rect x="2377.43" y="714.24" width="8" height="8" fill="#fff" stroke="#2626d6" stroke-width="1.9"/>
<rect x="2380.73" y="717.54" width="1.4" height="1.4" fill="#555"/>
<line x1="2330.55" y1="749.5" x2="2347.55" y2="749.5" stroke="#777" stroke-width="0.8" />
<line x1="2339.5" y1="741.46" x2="2339.5" y2="758.46" stroke="#777" stroke-width="0.8" />
<rect x="2335.05" y="745.96" width="8" height="8" fill="#fff" stroke="#2626d6" stroke-width="1.9"/>
<rect x="2338.35" y="749.26" width="1.4" height="1.4" fill="#555"/>
<line x1="1959.71" y1="327.5" x2="1976.71" y2="327.5" stroke="#777" stroke-width="0.8" />
<line x1="1968.5" y1="318.55" x2="1968.5" y2="335.55" stroke="#777" stroke-width="0.8" />
<rect x="1964.21" y="323.05" width="8" height="8" fill="#fff" stroke="#2626d6" stroke-width="1.9"/>
<rect x="1967.51" y="326.35" width="1.4" height="1.4" fill="#555"/>
<line x1="2023.29" y1="327.5" x2="2040.29" y2="327.5" stroke="#777" stroke-width="0.8" />
<line x1="2031.5" y1="318.55" x2="2031.5" y2="335.55" stroke="#777" stroke-width="0.8" />
<rect x="2027.79" y="323.05" width="8" height="8" fill="#fff" stroke="#2626d6" stroke-width="1.9"/>
<rect x="2031.09" y="326.35" width="1.4" height="1.4" fill="#555"/>
<line x1="1959.71" y1="369.5" x2="1976.71" y2="369.5" stroke="#777" stroke-width="0.8" />
<line x1="1968.5" y1="360.84" x2="1968.5" y2="377.84" stroke="#777" stroke-width="0.8" />
<rect x="1964.21" y="365.34" width="8" height="8" fill="#fff" stroke="#2626d6" stroke-width="1.9"/>
<rect x="1967.51" y="368.64" width="1.4" height="1.4" fill="#555"/>
<line x1="2023.29" y1="369.5" x2="2040.29" y2="369.5" stroke="#777" stroke-width="0.8" />
<line x1="2031.5" y1="360.84" x2="2031.5" y2="377.84" stroke="#777" stroke-width="0.8" />
<rect x="2027.79" y="365.34" width="8" height="8" fill="#fff" stroke="#2626d6" stroke-width="1.9"/>
<rect x="2031.09" y="368.64" width="1.4" height="1.4" fill="#555"/>
<line x1="1991.5" y1="411.5" x2="2008.5" y2="411.5" stroke="#777" stroke-width="0.8" />
<line x1="2000.5" y1="403.13" x2="2000.5" y2="420.13" stroke="#777" stroke-width="0.8" />
<rect x="1996" y="407.63" width="8" height="8" fill="#fff" stroke="#2626d6" stroke-width="1.9"/>
<rect x="1999.3" y="410.93" width="1.4" height="1.4" fill="#555"/>
<rect x="1669.43" y="800.41" width="25.43" height="12.11" fill="none" stroke="#8a8a8a" stroke-width="2" stroke-dasharray="5.5 3.4"/>
<rect x="1881.33" y="800.41" width="25.43" height="12.11" fill="none" stroke="#8a8a8a" stroke-width="2" stroke-dasharray="5.5 3.4"/>
<rect x="2093.24" y="800.41" width="25.43" height="12.11" fill="none" stroke="#8a8a8a" stroke-width="2" stroke-dasharray="5.5 3.4"/>
<rect x="2305.14" y="800.41" width="25.43" height="12.11" fill="none" stroke="#8a8a8a" stroke-width="2" stroke-dasharray="5.5 3.4"/>
<rect x="2050.46" y="420.09" width="12.71" height="25.43" fill="none" stroke="#8a8a8a" stroke-width="2" stroke-dasharray="5.5 3.4"/>
<rect x="-12.71" y="-6.36" width="25.43" height="12.71" transform="translate(2133.55 616.69) rotate(45)" fill="none" stroke="#8a8a8a" stroke-width="2" stroke-dasharray="5.5 3.4"/>
<line x1="1790" y1="540" x2="1861.7" y2="612" stroke="#222" stroke-width="1" />
<polygon points="1861.7,612 1847.56,602.1 1851.8,597.86" fill="#000"/>
<line x1="2063.7" y1="370" x2="2087" y2="413.3" stroke="#222" stroke-width="1" />
<line x1="2087" y1="413.5" x2="2185.5" y2="413.5" stroke="#222" stroke-width="1" />
<polygon points="2063.7,370 2072.15,380.22 2067.57,382.68" fill="#000"/>
<line x1="2145" y1="621" x2="2167.5" y2="578.8" stroke="#222" stroke-width="1" />
<line x1="2167.5" y1="578.5" x2="2286" y2="578.5" stroke="#222" stroke-width="1" />
<polygon points="2145,621 2148.82,608.31 2153.41,610.75" fill="#000"/>
</g>
<g id="detailC">
<line x1="1059" y1="978.5" x2="1102" y2="978.5" stroke="#3c3c3c" stroke-width="1" />
<line x1="1059" y1="1232.5" x2="1102" y2="1232.5" stroke="#3c3c3c" stroke-width="1" />
<line x1="1067.5" y1="978.7" x2="1067.5" y2="1232.7" stroke="#383838" stroke-width="1" />
<polygon points="1067.3,978.7 1069.7,991.7 1064.9,991.7" fill="#000"/>
<polygon points="1067.3,1232.7 1064.9,1219.7 1069.7,1219.7" fill="#000"/>
<line x1="1152.7" y1="978.5" x2="1183.7" y2="978.5" stroke="#3c3c3c" stroke-width="1" />
<line x1="1174.5" y1="978.7" x2="1174.5" y2="1203.91" stroke="#383838" stroke-width="1" />
<polygon points="1174.7,978.7 1177.1,991.7 1172.3,991.7" fill="#000"/>
<polygon points="1174.7,1203.91 1172.3,1190.91 1177.1,1190.91" fill="#000"/>
<line x1="1458" y1="978.5" x2="1500" y2="978.5" stroke="#3c3c3c" stroke-width="1" />
<line x1="1465" y1="1042.5" x2="1500" y2="1042.5" stroke="#3c3c3c" stroke-width="1" />
<line x1="1465" y1="1169.5" x2="1500" y2="1169.5" stroke="#3c3c3c" stroke-width="1" />
<line x1="1458" y1="1232.5" x2="1500" y2="1232.5" stroke="#3c3c3c" stroke-width="1" />
<line x1="1491.5" y1="978.7" x2="1491.5" y2="1042.2" stroke="#383838" stroke-width="1" />
<polygon points="1491.3,978.7 1493.7,991.7 1488.9,991.7" fill="#000"/>
<polygon points="1491.3,1042.2 1488.9,1029.2 1493.7,1029.2" fill="#000"/>
<line x1="1491.5" y1="1042.2" x2="1491.5" y2="1169.2" stroke="#383838" stroke-width="1" />
<polygon points="1491.3,1042.2 1493.7,1055.2 1488.9,1055.2" fill="#000"/>
<polygon points="1491.3,1169.2 1488.9,1156.2 1493.7,1156.2" fill="#000"/>
<line x1="1491.5" y1="1169.2" x2="1491.5" y2="1232.7" stroke="#383838" stroke-width="1" />
<polygon points="1491.3,1169.2 1493.7,1182.2 1488.9,1182.2" fill="#000"/>
<polygon points="1491.3,1232.7 1488.9,1219.7 1493.7,1219.7" fill="#000"/>
<line x1="1102.5" y1="1042.5" x2="1119.5" y2="1042.5" stroke="#888" stroke-width="1" stroke-dasharray="7 3.5"/>
<line x1="1440.5" y1="1042.5" x2="1457.5" y2="1042.5" stroke="#888" stroke-width="1" stroke-dasharray="7 3.5"/>
<line x1="1102.5" y1="1105.5" x2="1119.5" y2="1105.5" stroke="#888" stroke-width="1" stroke-dasharray="7 3.5"/>
<line x1="1440.5" y1="1105.5" x2="1457.5" y2="1105.5" stroke="#888" stroke-width="1" stroke-dasharray="7 3.5"/>
<line x1="1102.5" y1="1169.5" x2="1119.5" y2="1169.5" stroke="#888" stroke-width="1" stroke-dasharray="7 3.5"/>
<line x1="1440.5" y1="1169.5" x2="1457.5" y2="1169.5" stroke="#888" stroke-width="1" stroke-dasharray="7 3.5"/>
<line x1="1415.5" y1="929" x2="1415.5" y2="970.6" stroke="#3c3c3c" stroke-width="1" />
<line x1="1449.5" y1="929" x2="1449.5" y2="970.6" stroke="#3c3c3c" stroke-width="1" />
<line x1="1390.33" y1="936.5" x2="1415.83" y2="936.5" stroke="#383838" stroke-width="1" />
<line x1="1449.7" y1="936.5" x2="1475.2" y2="936.5" stroke="#383838" stroke-width="1" />
<polygon points="1415.83,936.2 1402.83,938.6 1402.83,933.8" fill="#000"/>
<polygon points="1449.7,936.2 1462.7,933.8 1462.7,938.6" fill="#000"/>
<line x1="1110.5" y1="1241" x2="1110.5" y2="1283" stroke="#3c3c3c" stroke-width="1" />
<line x1="1449.5" y1="1241" x2="1449.5" y2="1283" stroke="#3c3c3c" stroke-width="1" />
<line x1="1110.3" y1="1275.5" x2="1449.7" y2="1275.5" stroke="#383838" stroke-width="1" />
<polygon points="1110.3,1275 1123.3,1272.6 1123.3,1277.4" fill="#000"/>
<polygon points="1449.7,1275 1436.7,1277.4 1436.7,1272.6" fill="#000"/>
<rect x="1113" y="1203.91" width="334" height="26.09" fill="#fff" stroke="#2424c0" stroke-width="1.5"/>
<path d="M1144.17 978.7 L1110.3 978.7 L1110.3 1232.7 L1144.17 1232.7 L1144.17 1230 L1113 1230 L1113 981.4 L1144.17 981.4Z" fill="#c4c4f8" stroke="#2424c0" stroke-width="1.3" stroke-linejoin="miter"/>
<path d="M1415.83 978.7 L1449.7 978.7 L1449.7 1232.7 L1415.83 1232.7 L1415.83 1230 L1447 1230 L1447 981.4 L1415.83 981.4Z" fill="#c4c4f8" stroke="#2424c0" stroke-width="1.3" stroke-linejoin="miter"/>
<path d="M1113.3 1203.91 L1113.3 1199.71 A4.2 4.2 0 0 1 1117.5 1203.91 Z" fill="#000"/>
<path d="M1446.7 1203.91 L1442.5 1203.91 A4.2 4.2 0 0 1 1446.7 1199.71 Z" fill="#000"/>
<path d="M1128.5 1230.3 L1124.8 1230.3 A3.7 3.7 0 0 1 1132.2 1230.3 Z" fill="#000"/>
<path d="M1430.5 1230.3 L1426.8 1230.3 A3.7 3.7 0 0 1 1434.2 1230.3 Z" fill="#000"/>
<line x1="1304.3" y1="1155.5" x2="1390.4" y2="1155.5" stroke="#222" stroke-width="1" />
<line x1="1390.4" y1="1155.7" x2="1444.3" y2="1201.5" stroke="#222" stroke-width="1" />
<polygon points="1444.3,1201.5 1433.6,1195.56 1436.71,1191.9" fill="#000"/>
<line x1="1390.4" y1="1155.7" x2="1429.5" y2="1225.5" stroke="#222" stroke-width="1" />
<polygon points="1429.5,1225.5 1421.54,1216.2 1425.73,1213.86" fill="#000"/>
</g>
<g id="detailR">
<line x1="1610.4" y1="1227.5" x2="1882.6" y2="1227.5" stroke="#222" stroke-width="1.1" />
<line x1="1610.4" y1="1232.5" x2="1882.6" y2="1232.5" stroke="#222" stroke-width="1.1" />
<path d="M1610.4 1225.6 q-1.8 2.2 0 4.4 q1.8 2.2 0 4.4 M1882.6 1225.6 q1.8 2.2 0 4.4 q-1.8 2.2 0 4.4" fill="none" stroke="#222" stroke-width="1"/>
<path d="M1694.9 1227.3 L1685.9 1227.3 A9 9 0 0 1 1694.9 1218.3 Z" fill="#000"/>
<path d="M1797.2 1227.3 L1806.2 1227.3 A9 9 0 0 0 1797.2 1218.3 Z" fill="#000"/>
<path d="M1738 1176.7 A8 5.4 0 0 1 1754 1176.7 Z" fill="#000"/>
<path d="M1694.9 1227.3 L1694.9 1176.7 L1797.2 1176.7 L1797.2 1227.3 L1769.7 1227.3 L1769.7 1222.3 L1792.2 1222.3 L1792.2 1181.7 L1699.9 1181.7 L1699.9 1222.3 L1722.4 1222.3 L1722.4 1227.3Z" fill="#fff" stroke="#2424c0" stroke-width="1.5" stroke-linejoin="miter"/>
<line x1="1694.5" y1="1125.5" x2="1694.5" y2="1168" stroke="#3c3c3c" stroke-width="1" />
<line x1="1797.5" y1="1125.5" x2="1797.5" y2="1168" stroke="#3c3c3c" stroke-width="1" />
<line x1="1694.9" y1="1134.5" x2="1797.2" y2="1134.5" stroke="#383838" stroke-width="1" />
<polygon points="1694.9,1134.4 1707.9,1132 1707.9,1136.8" fill="#000"/>
<polygon points="1797.2,1134.4 1784.2,1136.8 1784.2,1132" fill="#000"/>
<line x1="1805.3" y1="1176.5" x2="1847.4" y2="1176.5" stroke="#3c3c3c" stroke-width="1" />
<line x1="1839.5" y1="1176.7" x2="1839.5" y2="1227.3" stroke="#383838" stroke-width="1" />
<polygon points="1839.5,1176.7 1841.9,1189.7 1837.1,1189.7" fill="#000"/>
<polygon points="1839.5,1227.3 1837.1,1214.3 1841.9,1214.3" fill="#000"/>
<line x1="1694.5" y1="1235.8" x2="1694.5" y2="1283.8" stroke="#3c3c3c" stroke-width="1" />
<line x1="1722.5" y1="1235.8" x2="1722.5" y2="1283.8" stroke="#3c3c3c" stroke-width="1" />
<line x1="1669.9" y1="1274.5" x2="1694.9" y2="1274.5" stroke="#383838" stroke-width="1" />
<line x1="1722.4" y1="1274.5" x2="1747.4" y2="1274.5" stroke="#383838" stroke-width="1" />
<polygon points="1694.9,1274.7 1681.9,1277.1 1681.9,1272.3" fill="#000"/>
<polygon points="1722.4,1274.7 1735.4,1272.3 1735.4,1277.1" fill="#000"/>
<line x1="1651" y1="1274.5" x2="1694.9" y2="1274.5" stroke="#3c3c3c" stroke-width="1" />
<line x1="1694.9" y1="1274.5" x2="1722.4" y2="1274.5" stroke="#3c3c3c" stroke-width="1" />
<line x1="1578.4" y1="1134.5" x2="1663.8" y2="1134.5" stroke="#222" stroke-width="1" />
<line x1="1663.8" y1="1134.9" x2="1739.4" y2="1173.6" stroke="#222" stroke-width="1" />
<polygon points="1739.4,1173.6 1727.62,1170.27 1729.81,1166" fill="#000"/>
<line x1="1663.8" y1="1134.9" x2="1688.4" y2="1221.6" stroke="#222" stroke-width="1" />
<polygon points="1688.4,1221.6 1682.82,1210.71 1687.43,1209.4" fill="#000"/>
</g>
<g id="texts">
<text x="34.28" y="69.2" font-family="'DejaVu Sans Condensed','Liberation Sans',sans-serif" font-size="59" fill="#000" textLength="734.55" lengthAdjust="spacingAndGlyphs" stroke="#000" stroke-width="0.5">Thang Cáp Biên Dạng Chữ C</text>
<text x="1093.33" y="72.8" font-family="'DejaVu Sans Condensed','Liberation Sans',sans-serif" font-size="59" fill="#000" textLength="372.39" lengthAdjust="spacingAndGlyphs" stroke="#000" stroke-width="0.5">CLC-15xx-VTU</text>
<text x="1188.97" y="157.5" font-family="'DejaVu Sans Condensed','Liberation Sans',sans-serif" font-size="59" fill="#000" textLength="176.61" lengthAdjust="spacingAndGlyphs" stroke="#000" stroke-width="0.5">R=300</text>
<text x="2071.57" y="69.2" font-family="'DejaVu Sans Condensed','Liberation Sans',sans-serif" font-size="59" fill="#000" textLength="455.52" lengthAdjust="spacingAndGlyphs" stroke="#000" stroke-width="0.5">Ngã Ba Đứng Lên</text>
<text x="326.53" y="163.2" font-family="'DejaVu Sans Condensed','Liberation Sans',sans-serif" font-size="29.2" fill="#000" textLength="296.24" lengthAdjust="spacingAndGlyphs" stroke="#000" stroke-width="0.25">HÌNH KHỐI TỔNG THỂ</text>
<line x1="328.1" y1="169.5" x2="625" y2="169.5" stroke="#555" stroke-width="1.4" />
<text x="1959.16" y="165" font-family="'DejaVu Sans Condensed','Liberation Sans',sans-serif" font-size="29.2" fill="#000" textLength="245.83" lengthAdjust="spacingAndGlyphs" stroke="#000" stroke-width="0.25">HÌNH CHIẾU CẠNH</text>
<line x1="1960.2" y1="171.5" x2="2206" y2="171.5" stroke="#555" stroke-width="1.4" />
<text x="1111.43" y="1342.8" font-family="'DejaVu Sans Condensed','Liberation Sans',sans-serif" font-size="30" fill="#000" textLength="335.7" lengthAdjust="spacingAndGlyphs" stroke="#000" stroke-width="0.25">Chi Tiết Thanh Dọc Chữ C</text>
<line x1="1112" y1="1349.5" x2="1447" y2="1349.5" stroke="#555" stroke-width="1.4" />
<text x="1605.23" y="1342.1" font-family="'DejaVu Sans Condensed','Liberation Sans',sans-serif" font-size="30" fill="#000" textLength="282.24" lengthAdjust="spacingAndGlyphs" stroke="#000" stroke-width="0.25">Chi Tiết Thanh Ngang</text>
<line x1="1606" y1="1349.5" x2="1887" y2="1349.5" stroke="#555" stroke-width="1.4" />
<text x="37" y="1221.6" font-family="'DejaVu Sans Condensed','Liberation Sans',sans-serif" font-size="19.3" fill="#000" textLength="74.92" lengthAdjust="spacingAndGlyphs" stroke="#000" stroke-width="0.25">Ghi chú:</text>
<line x1="37" y1="1225.5" x2="110.5" y2="1225.5" stroke="#333" stroke-width="1" />
<text x="35.98" y="1250.3" font-family="'DejaVu Sans Condensed','Liberation Sans',sans-serif" font-size="19.3" fill="#000" textLength="181.46" lengthAdjust="spacingAndGlyphs" stroke="#000" stroke-width="0.25">LD: Độ sâu mang tải</text>
<text x="35.97" y="1279.4" font-family="'DejaVu Sans Condensed','Liberation Sans',sans-serif" font-size="19.3" fill="#000" textLength="137.07" lengthAdjust="spacingAndGlyphs" stroke="#000" stroke-width="0.25">RS: Bước thang</text>
<text x="36" y="1309.4" font-family="'DejaVu Sans Condensed','Liberation Sans',sans-serif" font-size="19.3" fill="#000" textLength="267.84" lengthAdjust="spacingAndGlyphs" stroke="#000" stroke-width="0.25">15xx: Series 1512, 1515, 1520</text>
<text x="35.99" y="1339.4" font-family="'DejaVu Sans Condensed','Liberation Sans',sans-serif" font-size="19.3" fill="#000" textLength="346.39" lengthAdjust="spacingAndGlyphs" stroke="#000" stroke-width="0.25">Kích thước thể hiện là Millimeters (mm)</text>
<text x="660.29" y="349.5" font-family="'DejaVu Sans Condensed','Liberation Sans',sans-serif" font-size="19.6" fill="#000" textLength="114.69" lengthAdjust="spacingAndGlyphs" stroke="#000" stroke-width="0.25">Thanh ngang</text>
<text x="677" y="377" font-family="'DejaVu Sans Condensed','Liberation Sans',sans-serif" font-size="19.6" fill="#000" textLength="75.78" lengthAdjust="spacingAndGlyphs" stroke="#000" stroke-width="0.25">không lỗ</text>
<line x1="657.5" y1="355.5" x2="773.8" y2="355.5" stroke="#222" stroke-width="1" />
<line x1="657.5" y1="355" x2="635.8" y2="398.7" stroke="#222" stroke-width="1" />
<polygon points="635.8,398.7 639.25,385.9 643.91,388.21" fill="#000"/>
<text x="292.99" y="616.3" font-family="'DejaVu Sans Condensed','Liberation Sans',sans-serif" font-size="19.6" fill="#000" textLength="91" lengthAdjust="spacingAndGlyphs" stroke="#000" stroke-width="0.25">Thanh dọc</text>
<text x="297.79" y="643.8" font-family="'DejaVu Sans Condensed','Liberation Sans',sans-serif" font-size="19.6" fill="#000" textLength="76.29" lengthAdjust="spacingAndGlyphs" stroke="#000" stroke-width="0.25">không lỗ</text>
<line x1="289.5" y1="621.5" x2="386.3" y2="621.5" stroke="#222" stroke-width="1" />
<line x1="386.3" y1="621.8" x2="407" y2="658.7" stroke="#222" stroke-width="1" />
<polygon points="407,658.7 398.37,648.63 402.91,646.09" fill="#000"/>
<text x="2092.99" y="407.5" font-family="'DejaVu Sans Condensed','Liberation Sans',sans-serif" font-size="19.6" fill="#000" textLength="91.49" lengthAdjust="spacingAndGlyphs" stroke="#000" stroke-width="0.25">Thanh dọc</text>
<text x="2171.19" y="572.2" font-family="'DejaVu Sans Condensed','Liberation Sans',sans-serif" font-size="19.6" fill="#000" textLength="114.59" lengthAdjust="spacingAndGlyphs" stroke="#000" stroke-width="0.25">Thanh ngang</text>
<text x="1304.3" y="1151.5" font-family="'DejaVu Sans Condensed','Liberation Sans',sans-serif" font-size="19.6" fill="#000" textLength="84.56" lengthAdjust="spacingAndGlyphs" stroke="#000" stroke-width="0.25">Điểm hàn</text>
<text x="1578.4" y="1130.6" font-family="'DejaVu Sans Condensed','Liberation Sans',sans-serif" font-size="19.6" fill="#000" textLength="83.96" lengthAdjust="spacingAndGlyphs" stroke="#000" stroke-width="0.25">Điểm hàn</text>
<text font-family="'Liberation Sans',sans-serif" stroke-linejoin="round"><tspan x="2032.2" y="1331.1" font-size="56.5" fill="#f26a21" stroke="#f26a21" stroke-width="0.9" textLength="405.93" lengthAdjust="spacingAndGlyphs">ThangMangCap</tspan><tspan x="2436.2" y="1332.7" font-family="'Liberation Serif',serif" font-size="62" fill="#fff" stroke="#666" stroke-width="1.25">.</tspan><tspan x="2451.55" y="1332.6" font-size="35.5" fill="#000" stroke="#000" stroke-width="1.2" textLength="70.3" lengthAdjust="spacingAndGlyphs">com</tspan></text>
<text transform="matrix(1.0000 0.0000 -0.0000 1.0000 1746.0000 259.0000)" x="-23.47" y="0" font-family="'DejaVu Sans Light','DejaVu Sans','Liberation Sans',sans-serif" font-size="23.4" fill="#e5585f" textLength="47.89" lengthAdjust="spacingAndGlyphs" >450</text>
<text transform="matrix(1.0000 0.0000 -0.0000 1.0000 2000.6000 259.0000)" x="-32.08" y="0" font-family="'DejaVu Sans Light','DejaVu Sans','Liberation Sans',sans-serif" font-size="23.4" fill="#e5585f" textLength="64.78" lengthAdjust="spacingAndGlyphs" >150H</text>
<text transform="matrix(1.0000 0.0000 -0.0000 1.0000 2191.0000 259.0000)" x="-23.84" y="0" font-family="'DejaVu Sans Light','DejaVu Sans','Liberation Sans',sans-serif" font-size="23.4" fill="#e5585f" textLength="48.64" lengthAdjust="spacingAndGlyphs" >300</text>
<text transform="matrix(1.0000 0.0000 -0.0000 1.0000 2381.5000 259.0000)" x="-23.17" y="0" font-family="'DejaVu Sans Light','DejaVu Sans','Liberation Sans',sans-serif" font-size="23.4" fill="#e5585f" textLength="46.22" lengthAdjust="spacingAndGlyphs" >150</text>
<text transform="matrix(1.0000 0.0000 -0.0000 1.0000 1618.8000 639.4000)" x="-23.34" y="0" font-family="'DejaVu Sans Light','DejaVu Sans','Liberation Sans',sans-serif" font-size="23.4" fill="#e5585f" textLength="46.55" lengthAdjust="spacingAndGlyphs" >150</text>
<text transform="matrix(1.0000 0.0000 -0.0000 1.0000 1999.4000 852.3000)" x="-15.34" y="0" font-family="'DejaVu Sans Light','DejaVu Sans','Liberation Sans',sans-serif" font-size="23.4" fill="#e5585f" textLength="30.55" lengthAdjust="spacingAndGlyphs" >L2</text>
<text transform="matrix(0.0000 -1.0000 1.0000 0.0000 1509.6000 368.8000)" x="-23.34" y="0" font-family="'DejaVu Sans Light','DejaVu Sans','Liberation Sans',sans-serif" font-size="23.4" fill="#e5585f" textLength="46.55" lengthAdjust="spacingAndGlyphs" >150</text>
<text transform="matrix(0.0000 -1.0000 1.0000 0.0000 1509.6000 559.4000)" x="-23.05" y="0" font-family="'DejaVu Sans Light','DejaVu Sans','Liberation Sans',sans-serif" font-size="23.4" fill="#e5585f" textLength="47.04" lengthAdjust="spacingAndGlyphs" >300</text>
<text transform="matrix(0.0000 -1.0000 1.0000 0.0000 1509.6000 750.0000)" x="-32.08" y="0" font-family="'DejaVu Sans Light','DejaVu Sans','Liberation Sans',sans-serif" font-size="23.4" fill="#e5585f" textLength="64.78" lengthAdjust="spacingAndGlyphs" >150H</text>
<text transform="matrix(0.0000 -1.0000 1.0000 0.0000 2483.6000 559.4000)" x="-12.54" y="0" font-family="'DejaVu Sans Light','DejaVu Sans','Liberation Sans',sans-serif" font-size="23.4" fill="#e5585f" textLength="24.97" lengthAdjust="spacingAndGlyphs" >L1</text>
<text transform="matrix(0.7071 0.7071 -0.7071 0.7071 1816.9000 560.7000)" x="-31.71" y="0" font-family="'DejaVu Sans Light','DejaVu Sans','Liberation Sans',sans-serif" font-size="22" fill="#e5585f" textLength="63.43" lengthAdjust="spacingAndGlyphs" >R300</text>
<text transform="matrix(0.0000 -1.0000 1.0000 0.0000 1064.2000 1105.6000)" x="-37.85" y="0" font-family="'DejaVu Sans Light','DejaVu Sans','Liberation Sans',sans-serif" font-size="21.5" fill="#e5585f" textLength="75.39" lengthAdjust="spacingAndGlyphs" >H=150</text>
<text transform="matrix(0.0000 -1.0000 1.0000 0.0000 1171.2000 1091.8000)" x="-43.27" y="0" font-family="'DejaVu Sans Light','DejaVu Sans','Liberation Sans',sans-serif" font-size="21.5" fill="#e5585f" textLength="86.22" lengthAdjust="spacingAndGlyphs" >LD=133</text>
<text transform="matrix(0.0000 -1.0000 1.0000 0.0000 1488.2000 1008.7000)" x="-24.49" y="0" font-family="'DejaVu Sans Light','DejaVu Sans','Liberation Sans',sans-serif" font-size="21.5" fill="#e5585f" textLength="49.68" lengthAdjust="spacingAndGlyphs" >37.5</text>
<text transform="matrix(0.0000 -1.0000 1.0000 0.0000 1488.2000 1104.6000)" x="-13.62" y="0" font-family="'DejaVu Sans Light','DejaVu Sans','Liberation Sans',sans-serif" font-size="21.5" fill="#e5585f" textLength="27.94" lengthAdjust="spacingAndGlyphs" >75</text>
<text transform="matrix(0.0000 -1.0000 1.0000 0.0000 1488.2000 1200.6000)" x="-24.49" y="0" font-family="'DejaVu Sans Light','DejaVu Sans','Liberation Sans',sans-serif" font-size="21.5" fill="#e5585f" textLength="49.68" lengthAdjust="spacingAndGlyphs" >37.5</text>
<text transform="matrix(1.0000 0.0000 -0.0000 1.0000 1432.8000 932.7000)" x="-13.62" y="0" font-family="'DejaVu Sans Light','DejaVu Sans','Liberation Sans',sans-serif" font-size="21.5" fill="#e5585f" textLength="27.94" lengthAdjust="spacingAndGlyphs" >20</text>
<text transform="matrix(1.0000 0.0000 -0.0000 1.0000 1280.1000 1271.2000)" x="-7.82" y="0" font-family="'DejaVu Sans Light','DejaVu Sans','Liberation Sans',sans-serif" font-size="17.6" fill="#e5585f" textLength="16" lengthAdjust="spacingAndGlyphs" >W</text>
<text transform="matrix(1.0000 0.0000 -0.0000 1.0000 1746.2000 1130.4000)" x="-13.32" y="0" font-family="'DejaVu Sans Light','DejaVu Sans','Liberation Sans',sans-serif" font-size="20.8" fill="#e5585f" textLength="26.87" lengthAdjust="spacingAndGlyphs" >30</text>
<text transform="matrix(1.0000 0.0000 -0.0000 1.0000 1660.3000 1270.6000)" x="-6.68" y="0" font-family="'DejaVu Sans Light','DejaVu Sans','Liberation Sans',sans-serif" font-size="20.8" fill="#e5585f" textLength="13.59" lengthAdjust="spacingAndGlyphs" >8</text>
<text transform="matrix(0.0000 -1.0000 1.0000 0.0000 1835.8000 1201.7000)" x="-12.39" y="0" font-family="'DejaVu Sans Light','DejaVu Sans','Liberation Sans',sans-serif" font-size="20.8" fill="#e5585f" textLength="25" lengthAdjust="spacingAndGlyphs" >15</text>
<text transform="matrix(0.8660 -0.5000 0.0000 1.0000 401.0000 479.0000)" x="0" y="0" font-family="'DejaVu Sans Light','DejaVu Sans','Liberation Sans',sans-serif" font-size="25.3" fill="#e5585f" text-anchor="middle" >R=300</text>
<text transform="matrix(0.0000 -1.0000 0.8660 -0.5000 98.5000 970.0000)" x="0" y="0" font-family="'DejaVu Sans Light','DejaVu Sans','Liberation Sans',sans-serif" font-size="25" fill="#e5585f" text-anchor="middle" >150H</text>
<text transform="matrix(0.8660 0.5000 -0.8660 0.5000 213.0000 1092.0000)" x="0" y="0" font-family="'DejaVu Sans Light','DejaVu Sans','Liberation Sans',sans-serif" font-size="24" fill="#e5585f" text-anchor="middle" >W</text>
</g>
<g id="isodims">
<line x1="134.26" y1="891.52" x2="97.58" y2="912.67" stroke="#222" stroke-width="1" />
<line x1="134.26" y1="1018.23" x2="97.58" y2="1039.37" stroke="#222" stroke-width="1" />
<line x1="104.5" y1="908.44" x2="104.5" y2="1035.14" stroke="#383838" stroke-width="1" />
<polygon points="104.92,908.44 107.92,925.44 101.92,925.44" fill="#000"/>
<polygon points="104.92,1035.14 101.92,1018.14 107.92,1018.14" fill="#000"/>
<line x1="104.92" y1="1035.14" x2="325" y2="1162.01" stroke="#383838" stroke-width="1" />
<polygon points="104.92,1035.14 121.15,1041.04 118.15,1046.23" fill="#000"/>
<polygon points="325,1162.01 308.77,1156.12 311.77,1150.93" fill="#000"/>
<line x1="317.66" y1="1166.24" x2="354.34" y2="1145.1" stroke="#222" stroke-width="1" />
<line x1="361.3" y1="506.3" x2="471.3" y2="443.7" stroke="#222" stroke-width="1" />
<polygon points="471.3,443.7 458.01,454.72 455.04,449.5" fill="#000"/>
</g>
<g transform="matrix(1.0000 0.0000 0.0000 1.0000 2000.0000 750.5000)" fill="#fff" stroke="#333" stroke-width="0.95" font-family="'Liberation Sans',sans-serif" font-weight="bold" stroke-linejoin="round">
<text y="3.9"><tspan x="-47.6" font-size="19.8" textLength="14" lengthAdjust="spacingAndGlyphs">B</tspan><tspan x="-32.4" font-size="15.4" textLength="65" lengthAdjust="spacingAndGlyphs">ESTRA</tspan><tspan x="32.2" font-size="16.5" font-style="italic" textLength="14" lengthAdjust="spacingAndGlyphs">Y</tspan></text>
<path d="M-47 8.6 h5 q5 0 8 -1.6 t8 0 q4 1.8 8 1.8 h9 q4 0 8 -1.8 t8 0 q4 1.8 8 1.8 h9 q4 0 7 -1.2 t7 1.2 q5.5 0.4 7.5 -6" fill="none" stroke="#333" stroke-width="3.2" stroke-linecap="butt"/>
<path d="M-47 8.6 h5 q5 0 8 -1.6 t8 0 q4 1.8 8 1.8 h9 q4 0 8 -1.8 t8 0 q4 1.8 8 1.8 h9 q4 0 7 -1.2 t7 1.2 q5.5 0.4 7.5 -6" fill="none" stroke="#fff" stroke-width="1.5" stroke-linecap="butt"/>
</g>
<g transform="matrix(0.8660 -0.5000 0.0000 1.0000 746.8200 858.0291)" fill="#fff" stroke="#333" stroke-width="0.95" font-family="'Liberation Sans',sans-serif" font-weight="bold" stroke-linejoin="round">
<text y="3.9"><tspan x="-47.6" font-size="19.8" textLength="14" lengthAdjust="spacingAndGlyphs">B</tspan><tspan x="-32.4" font-size="15.4" textLength="65" lengthAdjust="spacingAndGlyphs">ESTRA</tspan><tspan x="32.2" font-size="16.5" font-style="italic" textLength="14" lengthAdjust="spacingAndGlyphs">Y</tspan></text>
<path d="M-47 8.6 h5 q5 0 8 -1.6 t8 0 q4 1.8 8 1.8 h9 q4 0 8 -1.8 t8 0 q4 1.8 8 1.8 h9 q4 0 7 -1.2 t7 1.2 q5.5 0.4 7.5 -6" fill="none" stroke="#333" stroke-width="3.2" stroke-linecap="butt"/>
<path d="M-47 8.6 h5 q5 0 8 -1.6 t8 0 q4 1.8 8 1.8 h9 q4 0 8 -1.8 t8 0 q4 1.8 8 1.8 h9 q4 0 7 -1.2 t7 1.2 q5.5 0.4 7.5 -6" fill="none" stroke="#fff" stroke-width="1.5" stroke-linecap="butt"/>
</g>
</svg></body></html>
